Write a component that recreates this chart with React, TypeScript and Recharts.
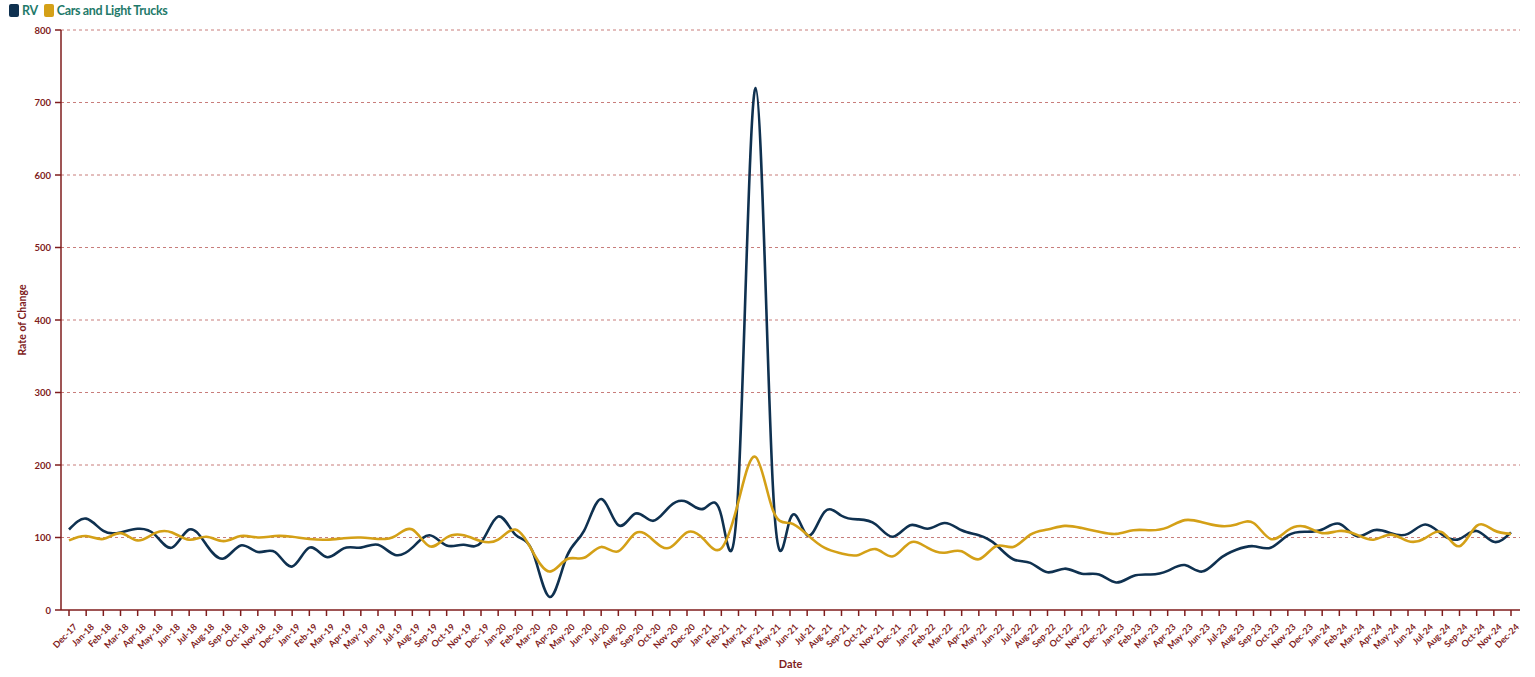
import React from 'react';
import { LineChart, Line, XAxis, YAxis, CartesianGrid } from 'recharts';

const months: string[] = [
  'Dec-17',
  'Jan-18','Feb-18','Mar-18','Apr-18','May-18','Jun-18','Jul-18','Aug-18','Sep-18','Oct-18','Nov-18','Dec-18',
  'Jan-19','Feb-19','Mar-19','Apr-19','May-19','Jun-19','Jul-19','Aug-19','Sep-19','Oct-19','Nov-19','Dec-19',
  'Jan-20','Feb-20','Mar-20','Apr-20','May-20','Jun-20','Jul-20','Aug-20','Sep-20','Oct-20','Nov-20','Dec-20',
  'Jan-21','Feb-21','Mar-21','Apr-21','May-21','Jun-21','Jul-21','Aug-21','Sep-21','Oct-21','Nov-21','Dec-21',
  'Jan-22','Feb-22','Mar-22','Apr-22','May-22','Jun-22','Jul-22','Aug-22','Sep-22','Oct-22','Nov-22','Dec-22',
  'Jan-23','Feb-23','Mar-23','Apr-23','May-23','Jun-23','Jul-23','Aug-23','Sep-23','Oct-23','Nov-23','Dec-23',
  'Jan-24','Feb-24','Mar-24','Apr-24','May-24','Jun-24','Jul-24','Aug-24','Sep-24','Oct-24','Nov-24','Dec-24',
];

const rvValues: number[] = [
  111,
  126, 109, 107, 112, 104, 86, 111, 90, 71, 89, 80, 80,
  60, 86, 73, 85, 86, 90, 76, 86, 103, 89, 90, 93,
  129, 104, 81, 18, 74, 109, 153, 117, 133, 123, 143, 149,
  140, 130, 174, 720, 172, 125, 103, 135, 130, 125, 118, 101,
  117, 112, 120, 110, 103, 90, 70, 65, 52, 57, 50, 49,
  38, 47, 49, 54, 62, 53, 70, 83, 88, 86, 103, 108,
  111, 119, 102, 110, 106, 105, 118, 104, 98, 109, 94, 107,
];

const carValues: number[] = [
  96,
  102, 98, 106, 96, 106, 107, 97, 101, 95, 102, 100, 102,
  101, 98, 97, 99, 100, 98, 102, 111, 88, 100, 103, 95,
  97, 111, 81, 53, 70, 72, 87, 81, 106, 97, 86, 107,
  97, 85, 150, 211, 138, 120, 104, 86, 78, 76, 84, 74,
  93, 86, 79, 81, 70, 88, 87, 104, 111, 116, 113, 108,
  105, 110, 110, 114, 124, 121, 116, 118, 120, 98, 110, 115,
  106, 109, 104, 97, 104, 95, 99, 107, 88, 116, 110, 105,
];

const yTicks: number[] = [0, 100, 200, 300, 400, 500, 600, 700, 800];

const seriesNames = { rv: 'RV', cars: 'Cars and Light Trucks' };

const data = months.map((m, i) => ({ date: m, rv: rvValues[i], cars: carValues[i] }));

const AXIS = '#7f1d1d';
const RV_COLOR = '#0f3150';
const CAR_COLOR = '#d4a017';
const LEGEND_TEXT = '#1f7a6a';
const FONT = 'Lato, "Noto Sans", sans-serif';

const XTick = (props: any) => {
  const { x, y, payload } = props;
  return (
    <g transform={`translate(${x + 3},${y + 4})`}>
      <text
        x={0}
        y={0}
        dy={8}
        textAnchor="end"
        transform="rotate(-45)"
        fill={AXIS}
        fontSize={9}
        fontWeight={700}
        fontFamily={FONT}
      >
        {payload.value}
      </text>
    </g>
  );
};

const YTick = (props: any) => {
  const { x, y, payload } = props;
  return (
    <text
      x={x - 2}
      y={y}
      dy={3.5}
      textAnchor="end"
      fill={AXIS}
      fontSize={9.5}
      fontWeight={700}
      fontFamily={FONT}
    >
      {payload.value}
    </text>
  );
};

const LegendItem = ({ color, label }: { color: string; label: string }) => (
  <div style={{ display: 'flex', alignItems: 'center', marginRight: 6 }}>
    <div style={{ width: 10, height: 13, background: color, borderRadius: 2, marginRight: 3 }} />
    <span style={{ color: LEGEND_TEXT, fontWeight: 700, fontSize: 12.5, letterSpacing: -0.35, fontFamily: FONT }}>{label}</span>
  </div>
);

export default function App() {
  return (
    <div style={{ position: 'absolute', left: 0, top: 0, width: 1535, height: 677, background: '#fff' }}>
      <div style={{ position: 'absolute', left: 9, top: 3, display: 'flex', alignItems: 'center', zIndex: 2 }}>
        <LegendItem color={RV_COLOR} label={seriesNames.rv} />
        <LegendItem color={CAR_COLOR} label={seriesNames.cars} />
      </div>
      <LineChart
        width={1535}
        height={677}
        data={data}
        margin={{ top: 30, right: 15, left: 21, bottom: 0 }}
      >
        <CartesianGrid
          vertical={false}
          stroke="#b5524f"
          strokeOpacity={0.75}
          strokeDasharray="3 3"
          horizontalValues={[100, 200, 300, 400, 500, 600, 700, 800]}
        />
        <XAxis
          dataKey="date"
          interval={0}
          height={67}
          padding={{ left: 8, right: 9 }}
          stroke={AXIS}
          strokeWidth={1.5}
          tickSize={6}
          tick={<XTick />}
          tickLine={{ stroke: AXIS, strokeWidth: 1.5 }}
          label={{
            value: 'Date',
            position: 'insideBottom',
            offset: 9,
            fill: AXIS,
            fontSize: 11,
            fontWeight: 700,
            fontFamily: FONT,
          }}
        />
        <YAxis
          width={40}
          domain={[0, 800]}
          ticks={yTicks}
          interval={0}
          stroke={AXIS}
          strokeWidth={1.5}
          tickSize={6}
          tick={<YTick />}
          tickLine={{ stroke: AXIS, strokeWidth: 1.5 }}
          label={{
            value: 'Rate of Change',
            angle: -90,
            position: 'insideLeft',
            offset: 1,
            fill: AXIS,
            fontSize: 10.5,
            fontWeight: 700,
            fontFamily: FONT,
            style: { textAnchor: 'middle' },
          }}
        />
        <Line
          type="natural"
          dataKey="rv"
          name={seriesNames.rv}
          stroke={RV_COLOR}
          strokeWidth={2.6}
          dot={false}
          activeDot={false}
          isAnimationActive={false}
        />
        <Line
          type="natural"
          dataKey="cars"
          name={seriesNames.cars}
          stroke={CAR_COLOR}
          strokeWidth={2.6}
          dot={false}
          activeDot={false}
          isAnimationActive={false}
        />
      </LineChart>
    </div>
  );
}
